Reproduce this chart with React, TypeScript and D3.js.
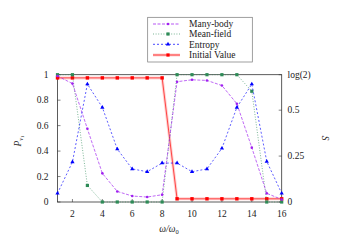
import { useEffect, useRef } from "react";
import * as d3 from "d3";

// omega / omega_0
const omega = [1, 2, 3, 4, 5, 6, 7, 8, 9, 10, 11, 12, 13, 14, 15, 16];
const manyBody = [0.99, 0.93, 0.575, 0.225, 0.083, 0.047, 0.039, 0.057, 0.945, 0.96, 0.955, 0.915, 0.772, 0.427, 0.068, 0.02];
const meanField = [1, 1, 0.13, 0, 0, 0, 0, 0, 1, 1, 1, 1, 1, 0.87, 0, 0];
const entropy = [0.047, 0.218, 0.642, 0.515, 0.288, 0.18, 0.165, 0.212, 0.212, 0.165, 0.18, 0.292, 0.515, 0.642, 0.221, 0.047];
const initialValue = [0.975, 0.975, 0.975, 0.975, 0.975, 0.975, 0.975, 0.975, 0.025, 0.025, 0.025, 0.025, 0.025, 0.025, 0.025, 0.025];

const xTicks = [2, 4, 6, 8, 10, 12, 14, 16];
const yTicks = [0, 0.2, 0.4, 0.6, 0.8, 1];
const sTicks = [0, 0.25, 0.5, Math.LN2];
const sTickLabels = ["0", "0.25", "0.5", "log(2)"];

const FONT = "'Liberation Serif', 'DejaVu Serif', serif";

export default function App() {
    const svgRef = useRef<SVGSVGElement | null>(null);

    useEffect(() => {
        const width = 350;
        const height = 245;
        const m = { left: 57.5, right: 281.7, top: 74.7, bottom: 202 };

        const svg = d3.select(svgRef.current!).attr("width", width).attr("height", height);
        svg.selectAll("*").remove();

        const x = d3.scaleLinear().domain([1, 16]).range([m.left, m.right]);
        const y = d3.scaleLinear().domain([0, 1]).range([m.bottom, m.top]);
        const yS = d3.scaleLinear().domain([0, Math.LN2]).range([m.bottom, m.top]);

        const frame = "#333";

        // axis frame
        svg.append("rect")
            .attr("x", m.left).attr("y", m.top)
            .attr("width", m.right - m.left).attr("height", m.bottom - m.top)
            .attr("fill", "none").attr("stroke", frame).attr("stroke-width", 0.8);

        // ticks (inward)
        const tl = 3;
        const ticks = svg.append("g").attr("stroke", frame).attr("stroke-width", 0.6);
        xTicks.forEach((t) => {
            ticks.append("line").attr("x1", x(t)).attr("x2", x(t)).attr("y1", m.bottom).attr("y2", m.bottom - tl);
        });
        yTicks.forEach((t) => {
            ticks.append("line").attr("x1", m.left).attr("x2", m.left + tl).attr("y1", y(t)).attr("y2", y(t));
        });
        sTicks.forEach((t) => {
            ticks.append("line").attr("x1", m.right).attr("x2", m.right - tl).attr("y1", yS(t)).attr("y2", yS(t));
        });

        const labels = svg.append("g").style("font-family", FONT).style("font-size", "9.5px").attr("fill", "#222");
        xTicks.forEach((t) => {
            labels.append("text").attr("x", x(t)).attr("y", 216.8).attr("text-anchor", "middle").text(String(t));
        });
        yTicks.forEach((t) => {
            labels.append("text").attr("x", 48.5).attr("y", y(t) + 3.2).attr("text-anchor", "end").text(d3.format("~g")(t));
        });
        sTicks.forEach((t, i) => {
            labels.append("text").attr("x", 287.5).attr("y", yS(t) + 3.2).attr("text-anchor", "start").text(sTickLabels[i]);
        });

        // axis titles
        const xl = labels.append("text").attr("x", 169).attr("y", 232).attr("text-anchor", "middle").style("font-style", "italic");
        xl.append("tspan").text("ω/ω");
        xl.append("tspan").attr("dy", 1.8).style("font-size", "6.5px").style("font-style", "normal").text("0");

        const yl = labels.append("text").attr("transform", `translate(21,141) rotate(-90)`).attr("text-anchor", "middle").style("font-style", "italic");
        yl.append("tspan").text("P");
        yl.append("tspan").attr("dy", 1.8).style("font-size", "6.5px").text("ν");
        yl.append("tspan").attr("dy", 1).style("font-size", "5px").style("font-style", "normal").text("1");

        labels.append("text").attr("transform", `translate(322,138) rotate(90)`).attr("text-anchor", "middle").style("font-style", "italic").text("S");

        const purple = "#a020f0";
        const green = "#2e8b57";
        const blue = "#0000ff";
        const red = "#ff0000";

        const plot = svg.append("g");

        const lineL = d3.line<number>().x((_, i) => x(omega[i])).y((d) => y(d));
        const lineS = d3.line<number>().x((_, i) => x(omega[i])).y((d) => yS(d));

        const square = (g: any, cx: number, cy: number, s: number, c: string) =>
            g.append("rect").attr("x", cx - s / 2).attr("y", cy - s / 2).attr("width", s).attr("height", s).attr("fill", c);
        const circle = (g: any, cx: number, cy: number, r: number, c: string) =>
            g.append("circle").attr("cx", cx).attr("cy", cy).attr("r", r).attr("fill", c);
        const tri = (g: any, cx: number, cy: number, s: number, c: string) =>
            g.append("path").attr("d", d3.symbol(d3.symbolTriangle, s * s)()).attr("transform", `translate(${cx},${cy})`).attr("fill", c);

        // Initial value (red, with light halo)
        plot.append("path").attr("d", lineL(initialValue)).attr("fill", "none").attr("stroke", red).attr("stroke-opacity", 0.18).attr("stroke-width", 3);
        plot.append("path").attr("d", lineL(initialValue)).attr("fill", "none").attr("stroke", red).attr("stroke-opacity", 0.85).attr("stroke-width", 0.8);
        initialValue.forEach((v, i) => square(plot, x(omega[i]), y(v), 3.4, red));

        // Mean-field (green dotted)
        plot.append("path").attr("d", lineL(meanField)).attr("fill", "none").attr("stroke", green).attr("stroke-opacity", 0.7).attr("stroke-width", 0.9).attr("stroke-dasharray", "1 1.6");
        meanField.forEach((v, i) => square(plot, x(omega[i]), y(v), 3.2, green));

        // Many-body (purple dashed)
        plot.append("path").attr("d", lineL(manyBody)).attr("fill", "none").attr("stroke", purple).attr("stroke-opacity", 0.85).attr("stroke-width", 0.8).attr("stroke-dasharray", "3 1.5");
        manyBody.forEach((v, i) => circle(plot, x(omega[i]), y(v), 1.3, purple));

        // Entropy (blue dashed, right axis)
        plot.append("path").attr("d", lineS(entropy)).attr("fill", "none").attr("stroke", blue).attr("stroke-opacity", 0.8).attr("stroke-width", 0.8).attr("stroke-dasharray", "2 2");
        entropy.forEach((v, i) => tri(plot, x(omega[i]), yS(v), 2.8, blue));

        // legend
        const lg = svg.append("g");
        lg.append("rect").attr("x", 147.7).attr("y", 17.3).attr("width", 104.6).attr("height", 44.7)
            .attr("fill", "white").attr("stroke", "#777").attr("stroke-width", 0.7);
        const items = [
            { name: "Many-body", color: purple, dash: "3 1.5", op: 0.85, mk: "c" },
            { name: "Mean-field", color: green, dash: "1 1.6", op: 0.7, mk: "s" },
            { name: "Entropy", color: blue, dash: "2 2", op: 0.8, mk: "t" },
            { name: "Initial Value", color: red, dash: "", op: 0.85, mk: "s" },
        ];
        const rows = [24, 34, 44.3, 55];
        items.forEach((it, i) => {
            const ry = rows[i];
            if (it.color === red) {
                lg.append("line").attr("x1", 153).attr("x2", 180).attr("y1", ry).attr("y2", ry)
                    .attr("stroke", red).attr("stroke-opacity", 0.18).attr("stroke-width", 3);
            }
            lg.append("line").attr("x1", 153).attr("x2", 180).attr("y1", ry).attr("y2", ry)
                .attr("stroke", it.color).attr("stroke-opacity", it.op).attr("stroke-width", 0.9)
                .attr("stroke-dasharray", it.dash || null);
            if (it.mk === "c") circle(lg, 168, ry, 1.3, it.color);
            else if (it.mk === "s") square(lg, 168, ry, 3.2, it.color);
            else tri(lg, 168, ry, 2.8, it.color);
            lg.append("text").attr("x", 189).attr("y", ry + 3.2).style("font-family", FONT).style("font-size", "9.5px")
                .attr("fill", "#222").text(it.name);
        });
    }, []);

    return <svg ref={svgRef} style={{ position: "absolute", left: 0, top: 0 }} />;
}
